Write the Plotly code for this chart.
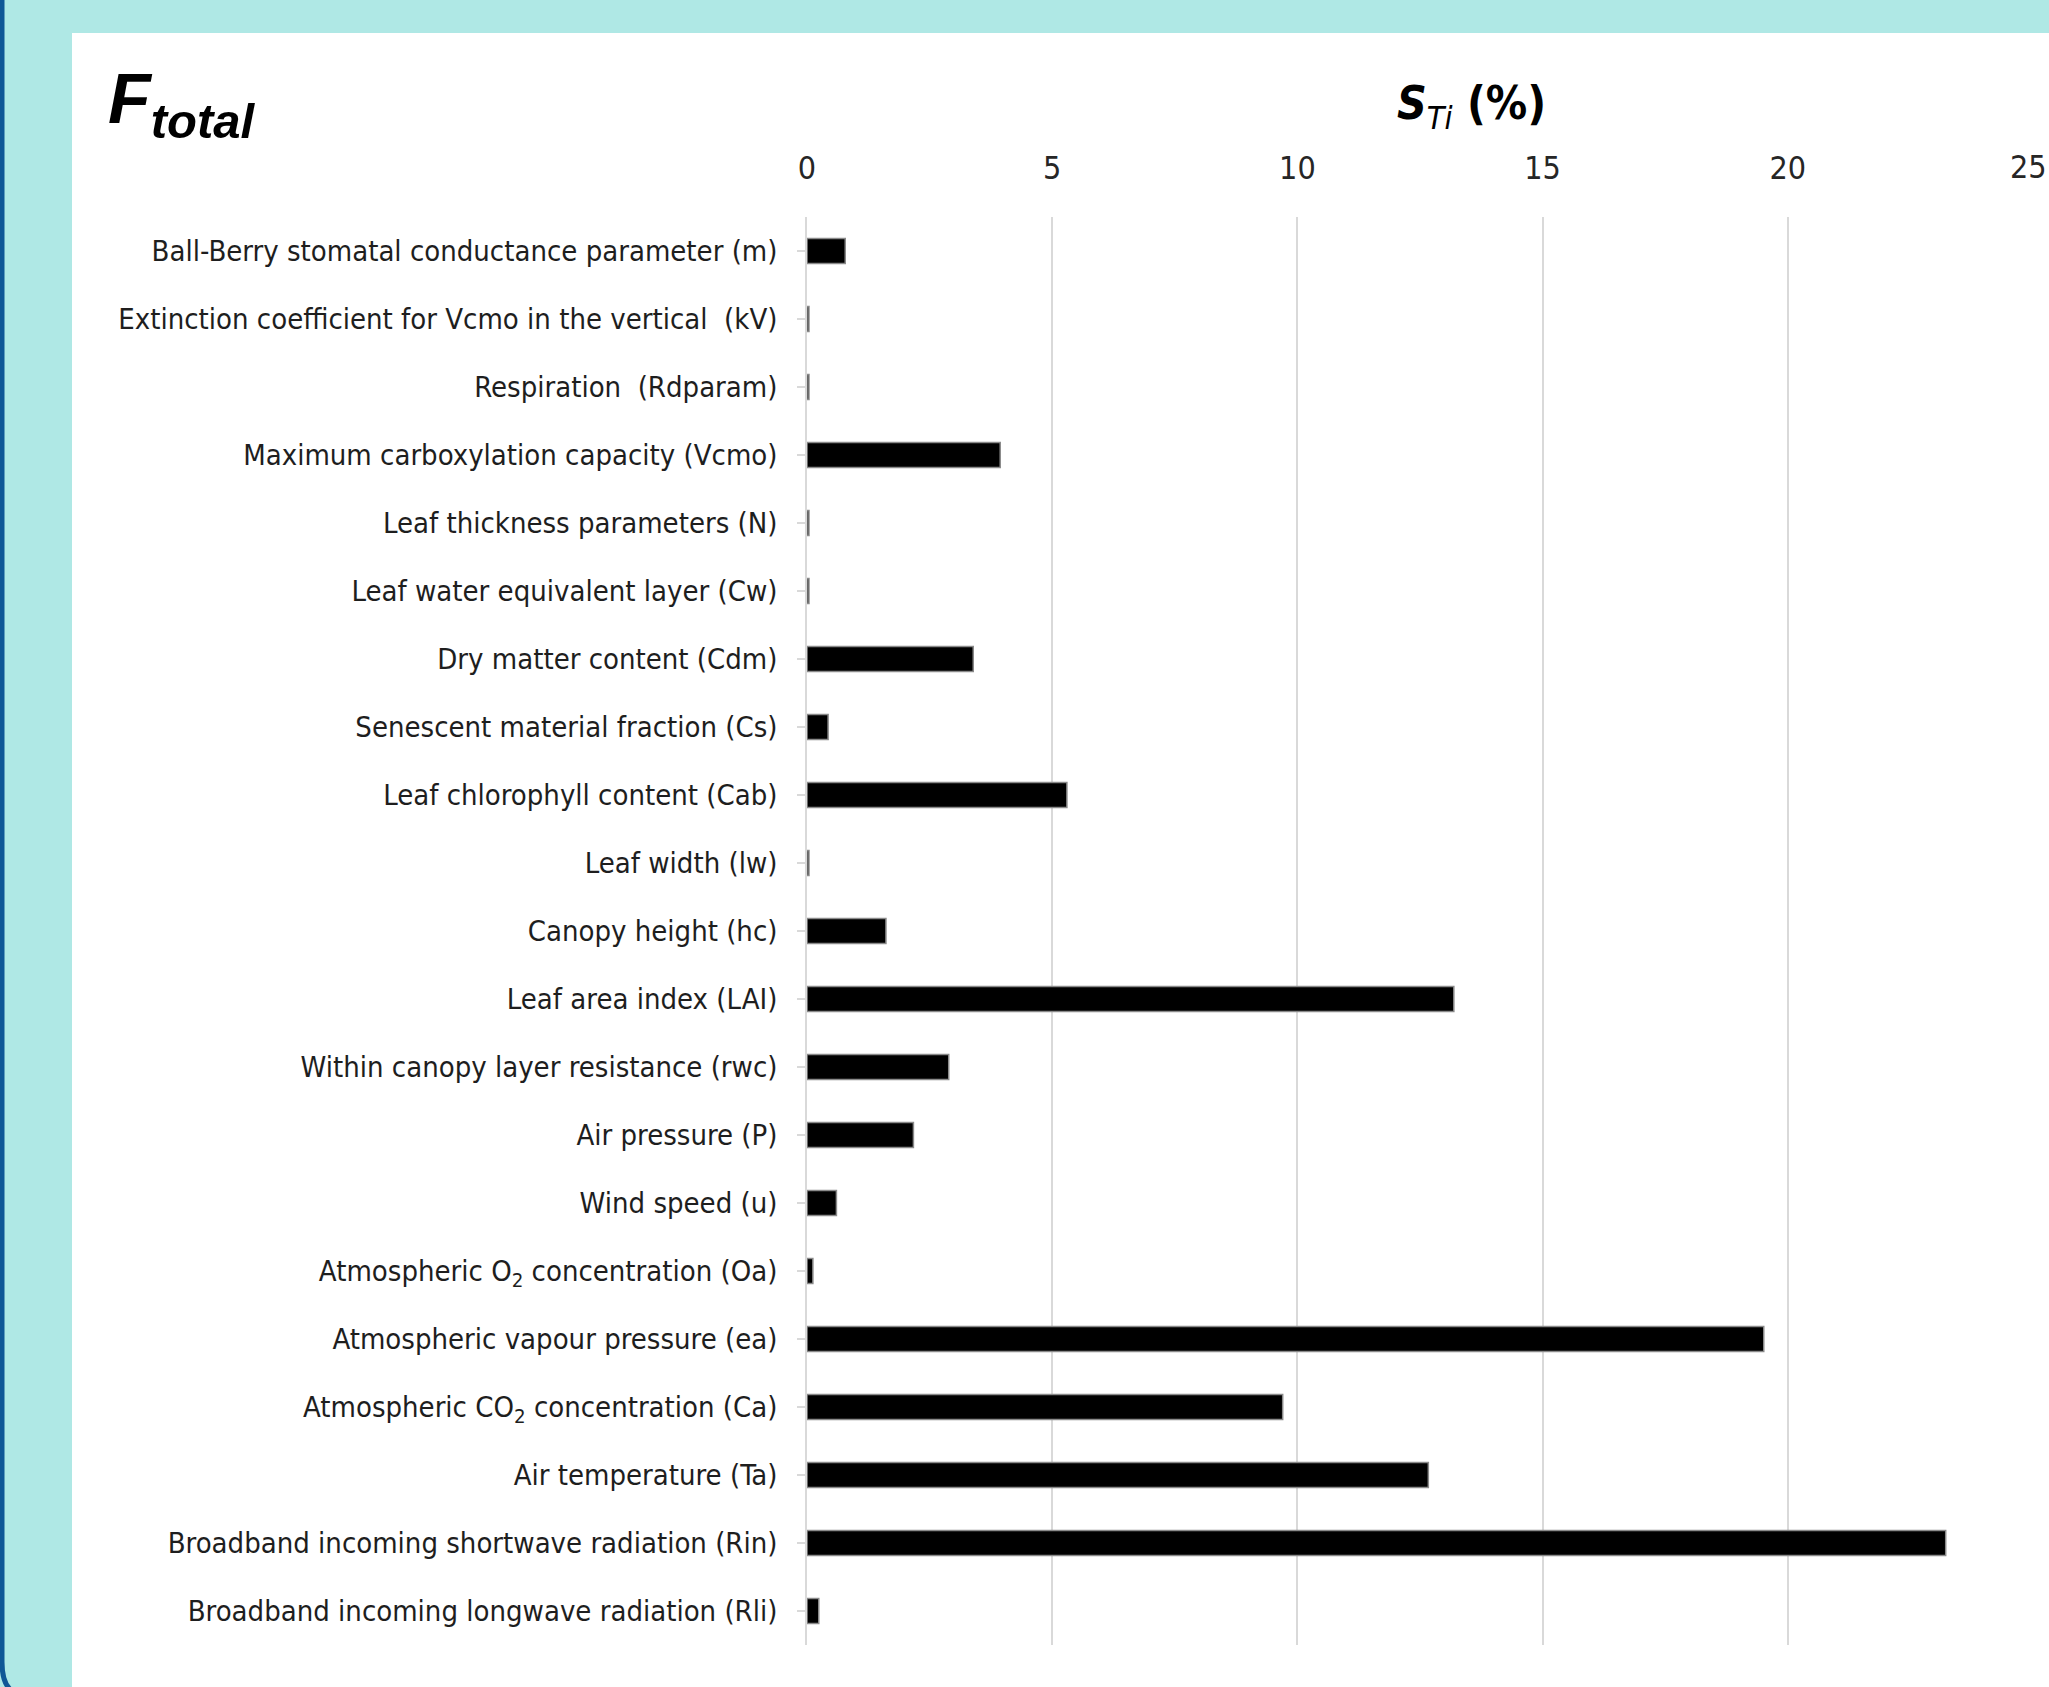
import plotly.graph_objects as go

# Total-order sensitivity indices S_Ti (%) of F_total to each model input
parameters = [
    "Ball-Berry stomatal conductance parameter (m)",
    "Extinction coefficient for Vcmo in the vertical  (kV)",
    "Respiration  (Rdparam)",
    "Maximum carboxylation capacity (Vcmo)",
    "Leaf thickness parameters (N)",
    "Leaf water equivalent layer (Cw)",
    "Dry matter content (Cdm)",
    "Senescent material fraction (Cs)",
    "Leaf chlorophyll content (Cab)",
    "Leaf width (lw)",
    "Canopy height (hc)",
    "Leaf area index (LAI)",
    "Within canopy layer resistance (rwc)",
    "Air pressure (P)",
    "Wind speed (u)",
    "Atmospheric O<sub>2</sub> concentration (Oa)",
    "Atmospheric vapour pressure (ea)",
    "Atmospheric CO<sub>2</sub> concentration (Ca)",
    "Air temperature (Ta)",
    "Broadband incoming shortwave radiation (Rin)",
    "Broadband incoming longwave radiation (Rli)",
]
sti_percent = [
    0.78, 0.04, 0.04, 3.94, 0.04, 0.04, 3.39, 0.43, 5.30, 0.04, 1.61,
    13.19, 2.89, 2.17, 0.60, 0.12, 19.51, 9.70, 12.67, 23.22, 0.24,
]
x_ticks = [0, 5, 10, 15, 20, 25]

W, H = 2049, 1687
L, R, T, B = 807, 16, 217, 42
PW, PH = W - L - R, H - T - B

def px_x(p):
    return (p - L) / PW

def px_y(p):
    return (H - B - p) / PH

NARROW = "DejaVu Sans Condensed, Liberation Sans Narrow, sans-serif"
TICK_FONT = dict(family=NARROW, size=32, color="#262626")
TEAL = "#AFE8E5"
BLUE = "#0F5796"

fig = go.Figure(
    go.Bar(
        x=sti_percent,
        y=parameters,
        orientation="h",
        marker=dict(color="#000000", line=dict(color="#8a8a8a", width=1.5)),
        hoverinfo="x+y",
    )
)

# the last tick sits on the figure's right edge; its label is placed
# flush with that edge instead of spilling past it
edge_tick = x_ticks[-1]

fig.update_layout(
    width=W,
    height=H,
    autosize=False,
    margin=dict(l=L, r=R, t=T, b=B, pad=0),
    paper_bgcolor=TEAL,
    plot_bgcolor="rgba(0,0,0,0)",
    bargap=0.63,
    showlegend=False,
    xaxis=dict(
        side="top",
        range=[0, 25],
        tickvals=x_ticks,
        ticktext=[str(v) if v != edge_tick else "" for v in x_ticks],
        showgrid=True,
        gridcolor="#D9D9D9",
        gridwidth=1.5,
        zeroline=False,
        showline=False,
        ticks="",
        ticklabelstandoff=31,
        tickfont=TICK_FONT,
    ),
    yaxis=dict(
        categoryorder="array",
        categoryarray=parameters,
        autorange="reversed",
        showgrid=False,
        showline=True,
        linecolor="#D9D9D9",
        linewidth=1.5,
        ticks="outside",
        ticklen=8,
        tickwidth=1.5,
        tickcolor="#D9D9D9",
        ticklabelstandoff=14,
        tickfont=dict(family=NARROW, size=29, color="#1e1e1e"),
    ),
    shapes=[
        # white card behind the chart
        dict(
            type="rect", xref="paper", yref="paper", layer="below",
            x0=px_x(72), x1=px_x(W + 10), y0=px_y(H + 10), y1=px_y(33),
            fillcolor="#FFFFFF", line=dict(width=0),
        ),
        # dark blue frame edge on the left with a rounded lower corner
        dict(
            type="path", xref="paper", yref="paper", layer="above",
            path=(
                f"M {px_x(2)},{px_y(-5)} L {px_x(2)},{px_y(1662)} "
                f"Q {px_x(2)},{px_y(1686)} {px_x(14)},{px_y(1692)}"
            ),
            line=dict(color=BLUE, width=5),
        ),
    ],
    annotations=[
        dict(
            text="<b><i>F</i></b><sub><b><i>total</i></b></sub>",
            xref="paper", yref="paper",
            x=px_x(106), y=px_y(104),
            xanchor="left", yanchor="middle",
            showarrow=False,
            font=dict(family="Liberation Sans, Arial, sans-serif", size=70, color="#000000"),
        ),
        dict(
            text="<b><i>S</i></b><sub><i>Ti</i></sub><b> (%)</b>",
            xref="paper", yref="paper",
            x=px_x(1471), y=px_y(106),
            xanchor="center", yanchor="middle",
            showarrow=False,
            font=dict(family=NARROW, size=46, color="#000000"),
        ),
        dict(
            text=str(edge_tick),
            xref="paper", yref="paper",
            x=px_x(W - 1), y=px_y(167),
            xanchor="right", yanchor="middle",
            showarrow=False,
            borderpad=0,
            font=TICK_FONT,
        ),
    ],
)

fig.write_html("out.html")
